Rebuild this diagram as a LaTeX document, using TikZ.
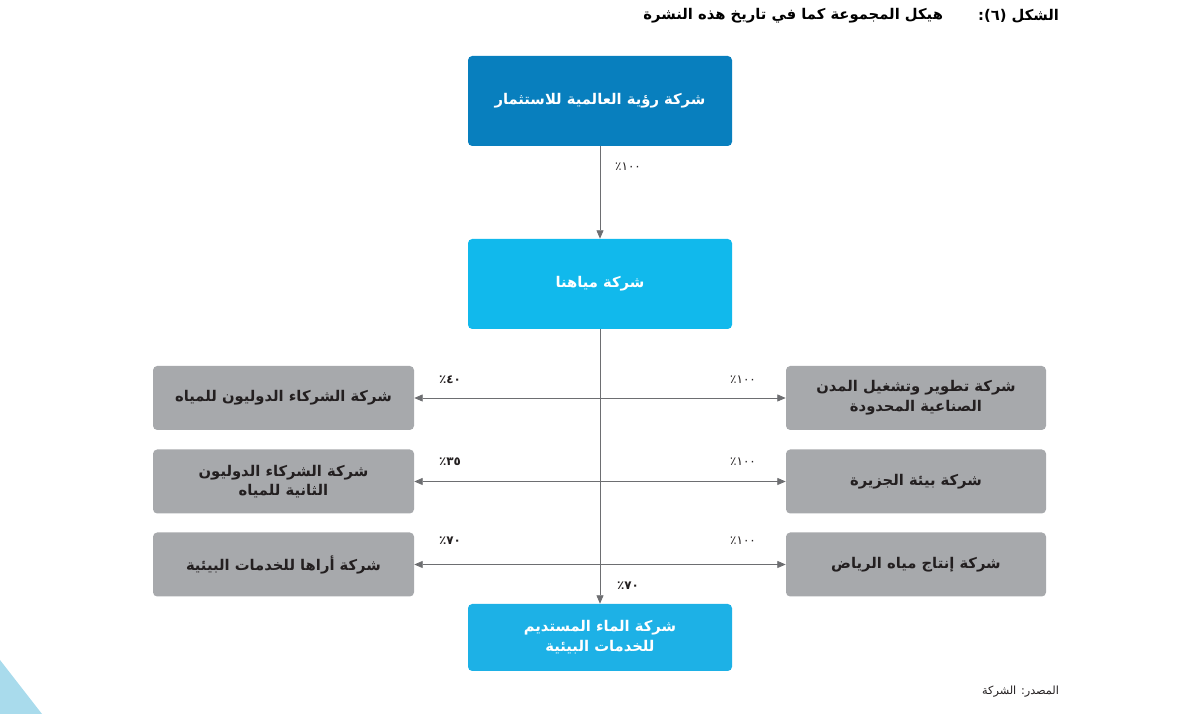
\documentclass[tikz,border=0pt]{standalone}
\usepackage{fontspec}
\setmainfont{DejaVu Sans}
\newfontfamily\arabicfont[Script=Arabic]{DejaVu Sans}
\TeXXeTstate=1
\definecolor{grpdark}{RGB}{8,127,190}
\definecolor{grpsky}{RGB}{17,185,236}
\definecolor{grpcyan}{RGB}{29,177,230}
\definecolor{grpgray}{RGB}{167,169,172}
\definecolor{grptext}{RGB}{35,31,32}
\definecolor{grpline}{RGB}{109,110,113}
\definecolor{grptri}{RGB}{169,219,236}
\usetikzlibrary{arrows.meta,positioning}

\begin{document}
\begin{tikzpicture}[
  every node/.style={font=\arabicfont\fontsize{10.5}{14}\selectfont},
  bluebox/.style={rounded corners=3pt,text=white,align=center,
                  minimum width=6.6cm,minimum height=2.25cm,font=\arabicfont\bfseries\fontsize{10.5}{14}\selectfont},
  graybox/.style={rounded corners=3pt,fill=grpgray,text=grptext,align=center,
                  minimum width=6.5cm,minimum height=1.6cm,font=\arabicfont\bfseries\fontsize{10.5}{14}\selectfont},
  pct/.style={text=grptext,inner sep=1pt,font=\arabicfont\fontsize{8.5}{10}\selectfont},
  pctb/.style={pct,font=\arabicfont\bfseries\fontsize{8.5}{10}\selectfont},
  arr/.style={-{Triangle[length=6pt,width=5pt]},grpline,line width=0.6pt},
  biarr/.style={{Triangle[length=6pt,width=5pt]}-{Triangle[length=6pt,width=5pt]},grpline,line width=0.6pt},
]
  \useasboundingbox (0,0) rectangle (30,17.85);

  % Corner decoration
  \fill[grptri] (0,0) -- (0,1.35) -- (1.05,0) -- cycle;

  % Title
  \node[anchor=east,font=\arabicfont\bfseries\fontsize{10.5}{13}\selectfont] (fig) at (26.6,17.45)
    {\beginR الشكل (٦):\endR};
  \node[anchor=east,font=\arabicfont\bfseries\fontsize{10.5}{13}\selectfont] (title) at (23.7,17.45)
    {\beginR هيكل المجموعة كما في تاريخ هذه النشرة\endR};

  % Parent companies
  \node[bluebox,fill=grpdark] (vision) at (15,15.325) {\beginR شركة رؤية العالمية للاستثمار\endR};
  \node[bluebox,fill=grpsky] (mayahna) at (15,10.75) {\beginR شركة مياهنا\endR};
  \node[bluebox,fill=grpcyan,minimum height=1.675cm] (mustadeem) at (15,1.9125)
    {\beginR شركة الماء المستديم\endR\\\beginR للخدمات البيئية\endR};

  % Left subsidiaries
  \node[graybox,minimum width=6.525cm] (intl) at (7.0875,7.9) {\beginR شركة الشركاء الدوليون للمياه\endR};
  \node[graybox,minimum width=6.525cm] (intltwo) at (7.0875,5.8125)
    {\beginR شركة الشركاء الدوليون\endR\\\beginR الثانية للمياه\endR};
  \node[graybox,minimum width=6.525cm] (araha) at (7.0875,3.7375) {\beginR شركة أراها للخدمات البيئية\endR};

  % Right subsidiaries
  \node[graybox] (cities) at (22.9,7.9)
    {\beginR شركة تطوير وتشغيل المدن\endR\\\beginR الصناعية المحدودة\endR};
  \node[graybox] (jazeera) at (22.9,5.8125) {\beginR شركة بيئة الجزيرة\endR};
  \node[graybox] (riyadh) at (22.9,3.7375) {\beginR شركة إنتاج مياه الرياض\endR};

  % Ownership links
  \draw[arr] (vision) -- (mayahna);
  \draw[arr] (mayahna) -- (mustadeem);
  \draw[biarr] (intl) -- (cities);
  \draw[biarr] (intltwo) -- (jazeera);
  \draw[biarr] (araha) -- (riyadh);

  % Percentages
  \node[pct] (p1) at (15.7,13.675) {\beginR ١٠٠٪\endR};
  \node[pctb] (p2) at (11.25,8.35) {\beginR ٤٠٪\endR};
  \node[pct] (p3) at (18.575,8.35) {\beginR ١٠٠٪\endR};
  \node[pctb] (p4) at (11.25,6.3) {\beginR ٣٥٪\endR};
  \node[pct] (p5) at (18.575,6.3) {\beginR ١٠٠٪\endR};
  \node[pctb] (p6) at (11.25,4.325) {\beginR ٧٠٪\endR};
  \node[pct] (p7) at (18.575,4.325) {\beginR ١٠٠٪\endR};
  \node[pctb] (p8) at (15.7,3.2) {\beginR ٧٠٪\endR};

  % Source
  \node[anchor=east,text=grptext,font=\arabicfont\fontsize{8}{10}\selectfont] (src) at (26.6,0.55)
    {\beginR المصدر: الشركة\endR};
\end{tikzpicture}
\end{document}
